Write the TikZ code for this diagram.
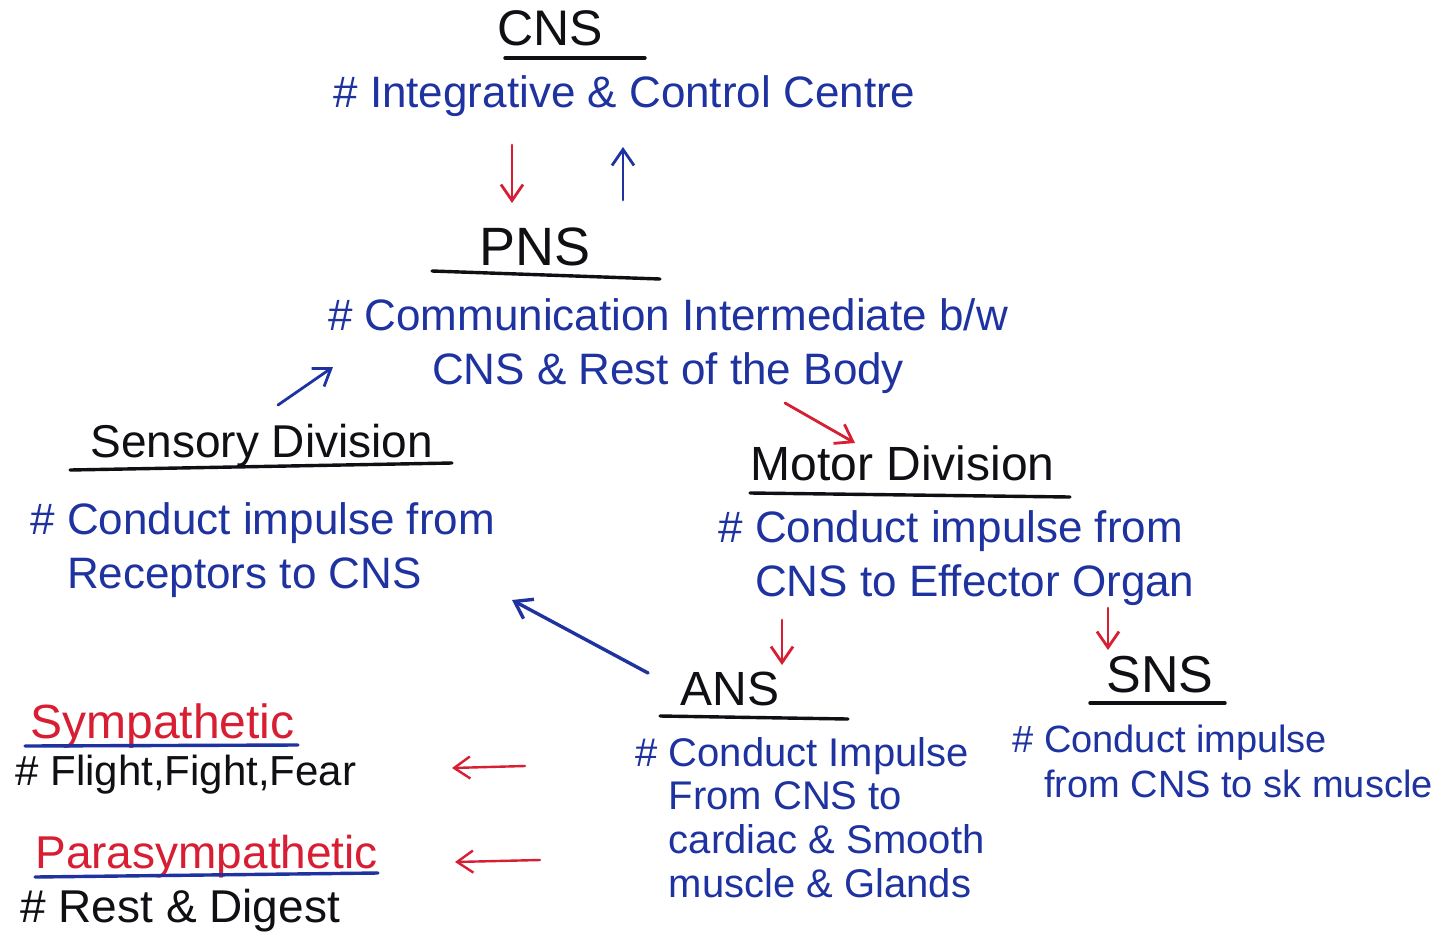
\documentclass[tikz,border=0pt]{standalone}
\usepackage{fontspec}
\setmainfont{Liberation Sans}
\usetikzlibrary{arrows.meta}
\definecolor{pen}{RGB}{30,50,160}
\definecolor{ink}{RGB}{15,15,20}
\definecolor{redpen}{RGB}{215,30,50}
\begin{document}
\begin{tikzpicture}[x=0.5pt,y=-0.5pt,
  head/.style={font=\fontsize{24}{28}\selectfont, text=ink, inner sep=0},
  note/.style={font=\fontsize{22}{27}\selectfont, text=pen, inner sep=0, align=left},
  small/.style={font=\fontsize{20}{21.8}\selectfont, text=pen, inner sep=0, align=left},
  uline/.style={line width=1.7pt, draw=ink, line cap=round},
  bline/.style={line width=1.7pt, draw=pen, line cap=round},
  arr/.style={-{Straight Barb[length=8pt,width=11pt]}, line width=1.4pt, line cap=round}]
\useasboundingbox (0,0) rectangle (1440,932);
\fill[white] (0,0) rectangle (1440,932);

% CNS
\node[head, anchor=base, font=\fontsize{25}{28}\selectfont] (cns) at (550,45) {CNS};
\draw[uline] (505,58) -- (645,58);
\node[note, anchor=west] (cnsd) at (333,96) {\# Integrative \& Control Centre};

% CNS <-> PNS arrows
\coordinate (d1) at (512,145); \coordinate (d2) at (512,203);
\coordinate (u1) at (623,200); \coordinate (u2) at (623,147);
\draw[arr, redpen] (d1) -- (d2);
\draw[arr, pen] (u1) -- (u2);

% PNS
\node[head, anchor=base, font=\fontsize{27}{30}\selectfont] (pns) at (535,265) {PNS};
\draw[uline] (432,271) -- (660,279);
\node[note, align=center] (pnsd) at (668,346) {\# Communication Intermediate b/w\\CNS \& Rest of the Body};

% Sensory
\node[head, anchor=base west, font=\fontsize{23}{26}\selectfont] (sens) at (90,457) {Sensory Division};
\draw[uline] (70,470) -- (452,463);
\node[note, anchor=north west] (sensd) at (30,502) {\# Conduct impulse from\\\phantom{\# }Receptors to CNS};
\coordinate (s1) at (278,405); \coordinate (s2) at (333,367);
\draw[arr, pen] (s1) -- (s2);

% Motor
\node[head, anchor=base west] (mot) at (750,480) {Motor Division};
\draw[uline] (750,493) -- (1070,497);
\node[note, anchor=north west] (motd) at (718,510) {\# Conduct impulse from\\\phantom{\# }CNS to Effector Organ};
\coordinate (m1) at (785,403); \coordinate (m2) at (855,443);
\draw[arr, redpen] (m1) -- (m2);

% ANS
\coordinate (a1) at (782,620); \coordinate (a2) at (782,665);
\draw[arr, redpen] (a1) -- (a2);
\node[head, anchor=base, font=\fontsize{24}{27}\selectfont] (ans) at (730,705) {ANS};
\draw[uline] (660,716) -- (848,719);
\node[small, anchor=north west] (ansd) at (635,737) {\# Conduct Impulse\\\phantom{\# }From CNS to\\\phantom{\# }cardiac \& Smooth\\\phantom{\# }muscle \& Glands};
\coordinate (b1) at (648,673); \coordinate (b2) at (512,600);
\draw[arr, pen, line width=1.7pt] (b1) -- (b2);

% SNS
\coordinate (n1) at (1108,608); \coordinate (n2) at (1108,650);
\draw[arr, redpen] (n1) -- (n2);
\node[head, anchor=base, font=\fontsize{26}{29}\selectfont] (sns) at (1160,692) {SNS};
\draw[uline] (1090,703) -- (1225,703);
\node[small, font=\fontsize{19}{22.5}\selectfont, anchor=north west] (snsd) at (1012,725) {\# Conduct impulse\\\phantom{\# }from CNS to sk muscle};

% Sympathetic / Parasympathetic
\node[head, text=redpen, font=\fontsize{24}{27}\selectfont, anchor=base west] (sym) at (30,738) {Sympathetic};
\draw[bline] (25,746) -- (298,745);
\node[head, font=\fontsize{21}{24}\selectfont, anchor=base west] (symd) at (15,785) {\# Flight,Fight,Fear};
\coordinate (r1) at (525,766); \coordinate (r2) at (452,768);
\draw[arr, redpen, line width=1.2pt] (r1) -- (r2);

\node[head, text=redpen, font=\fontsize{23}{26}\selectfont, anchor=base west] (para) at (35,868) {Parasympathetic};
\draw[bline] (35,877) -- (378,873);
\node[head, font=\fontsize{23}{26}\selectfont, anchor=base west] (parad) at (20,922) {\# Rest \& Digest};
\coordinate (q1) at (540,860); \coordinate (q2) at (455,862);
\draw[arr, redpen, line width=1.2pt] (q1) -- (q2);
\end{tikzpicture}
\end{document}
